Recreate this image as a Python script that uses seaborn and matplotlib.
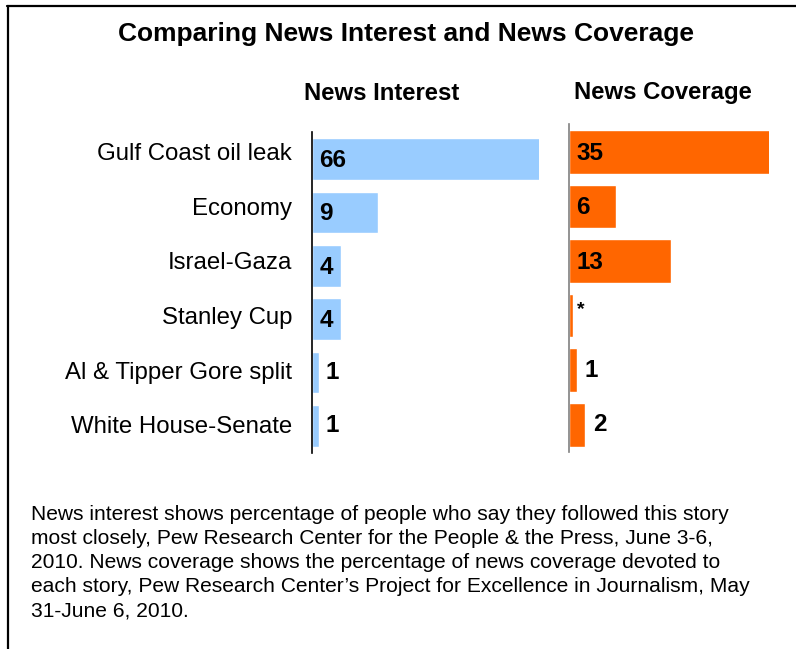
import matplotlib
matplotlib.use("Agg")
import matplotlib.pyplot as plt
import seaborn as sns
import pandas as pd
from matplotlib.lines import Line2D

stories = ["Gulf Coast oil leak", "Economy", "Israel-Gaza", "Stanley Cup",
           "Al & Tipper Gore split", "White House-Senate"]
interest = [66, 9, 4, 4, 1, 1]
interest_labels = ["66", "9", "4", "4", "1", "1"]
coverage = [35, 6, 13, 0.5, 1, 2]
coverage_labels = ["35", "6", "13", "*", "1", "2"]

title = "Comparing News Interest and News Coverage"
header_left = "News Interest"
header_right = "News Coverage"
footnote = [
    "News interest shows percentage of people who say they followed this story",
    "most closely, Pew Research Center for the People & the Press, June 3-6,",
    "2010. News coverage shows the percentage of news coverage devoted to",
    "each story, Pew Research Center\u2019s Project for Excellence in Journalism, May",
    "31-June 6, 2010.",
]

BLUE = "#99CCFF"
ORANGE = "#FF6600"

sns.set_theme(style="white")
plt.rcParams["font.family"] = ["Liberation Sans", "DejaVu Sans"]
plt.rcParams["text.color"] = "black"
plt.rcParams["ytick.color"] = "black"
plt.rcParams["ytick.labelcolor"] = "black"

W, H = 796, 649
fig = plt.figure(figsize=(W / 100, H / 100), dpi=100)

def frac(x0, y0, x1, y1):
    return [x0 / W, 1 - y1 / H, (x1 - x0) / W, (y1 - y0) / H]

df_i = pd.DataFrame({"story": stories, "value": interest})
df_c = pd.DataFrame({"story": stories, "value": coverage})

axL = fig.add_axes(frac(312, 132.3, 539, 452.7))
axR = fig.add_axes(frac(569, 124.5, 769, 452))

sns.barplot(data=df_i, x="value", y="story", orient="h", color=BLUE,
            saturation=1, width=0.78, ax=axL)
sns.barplot(data=df_c, x="value", y="story", orient="h", color=ORANGE,
            saturation=1, width=0.80, ax=axR)

axL.set_xlim(0, 227 / 7.35)
axR.set_xlim(0, 200 / 7.85)

for ax, spcol in ((axL, "black"), (axR, "#808080")):
    for s in ("top", "right", "bottom"):
        ax.spines[s].set_visible(False)
    ax.spines["left"].set_color(spcol)
    ax.spines["left"].set_linewidth(1.2)
    ax.set_xlabel("")
    ax.set_ylabel("")
    ax.set_xticks([])
    ax.tick_params(axis="y", length=0)
    for p in ax.patches:
        p.set_clip_on(True)

axL.set_yticklabels([])
# category names sit left of the left panel, aligned with the right panel rows
axR.tick_params(axis="y", labelsize=17.3, pad=(569 - 292) * 0.72,
                labelcolor="black")

VFS = 17.5

def label_bars(ax, vals, labels, out_off):
    for i, (v, lab) in enumerate(zip(vals, labels)):
        if v >= 3:
            ax.annotate(lab, (0, i), xytext=(5.3, -1), textcoords="offset points",
                        ha="left", va="center", fontsize=VFS, fontweight="bold",
                        color="black")
        elif lab == "*":
            ax.annotate(lab, (v, i), xytext=(3, 4), textcoords="offset points",
                        ha="left", va="center", fontsize=14, fontweight="bold",
                        color="black")
        else:
            ax.annotate(lab, (v, i), xytext=(out_off, 0), textcoords="offset points",
                        ha="left", va="center", fontsize=VFS, fontweight="bold",
                        color="black")

label_bars(axL, interest, interest_labels, 4.5)
label_bars(axR, coverage, coverage_labels, 5.8)

fig.text(406 / W, 1 - 34 / H, title, ha="center", va="center",
         fontsize=19, fontweight="bold")
fig.text(382 / W, 1 - 93 / H, header_left, ha="center", va="center",
         fontsize=17.2, fontweight="bold")
fig.text(663 / W, 1 - 93 / H, header_right, ha="center", va="center",
         fontsize=17.2, fontweight="bold")

for k, line in enumerate(footnote):
    fig.text(31 / W, 1 - (515 + 24 * k) / H, line, ha="left", va="center",
             fontsize=15.1)

fig.add_artist(Line2D([7 / W, 1], [1 - 6 / H, 1 - 6 / H], color="black",
                      lw=1.6, transform=fig.transFigure))
fig.add_artist(Line2D([8 / W, 8 / W], [0, 1 - 6 / H], color="black",
                      lw=1.6, transform=fig.transFigure))

fig.savefig("out.png", dpi=100, facecolor="white")
